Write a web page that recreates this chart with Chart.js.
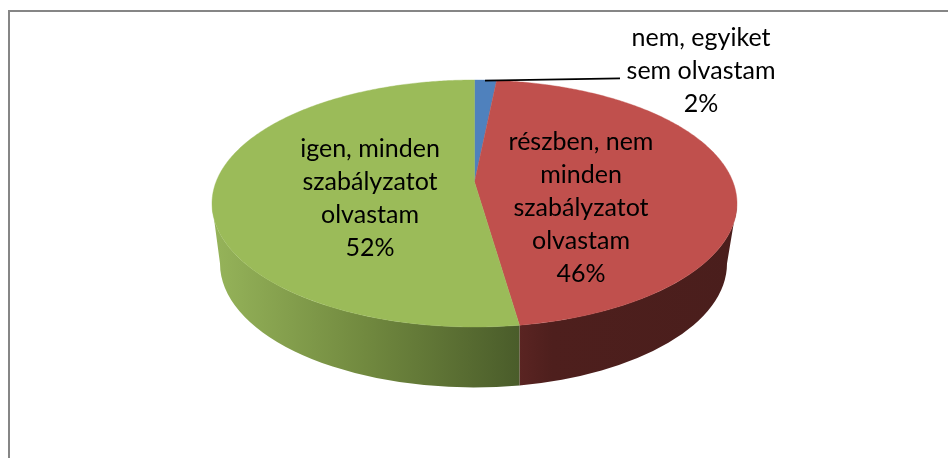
<!DOCTYPE html>
<html><head><meta charset="utf-8">
<style>html,body{margin:0;padding:0;background:#fff}#w{position:relative;width:948px;height:458px}canvas{display:block}</style>
<script src="https://cdn.jsdelivr.net/npm/chart.js@4"></script></head>
<body><div id="w"><canvas id="c" width="948" height="458"></canvas></div>
<script>
const categories = ['nem, egyiket sem olvastam','részben, nem minden szabályzatot olvastam','igen, minden szabályzatot olvastam'];
const values = [1.6, 46.1, 52.3];
const colors = ['#4f81bd','#c0504d','#9bbb59'];
const labelLines = [['nem, egyiket','sem olvastam','2%'],['részben, nem','minden','szabályzatot','olvastam','46%'],['igen, minden','szabályzatot','olvastam','52%']];
const labelPos = [[701,38],[581,142],[370,149]];
const LH = 33;
const E = {cx:474.5, cy:203.5, rx:262.5, ry:123.5, depth:60, brx:253.5, bry:124, bcx:473.5, d:-0.174};
const wallStops = [
  [[0,'#3f6797'],[1,'#2c4a6e']],
  [[0,'#5a2422'],[0.15,'#4e1f1d'],[1,'#4a1e1c']],
  [[0,'#96b45a'],[0.5,'#71893f'],[1,'#4a5c2a']]
];
// perspective: chart angle on the disc -> parameter on the drawn ellipse
function rimT(a){
  const x=Math.cos(a), y=Math.sin(a), k=Math.sqrt(1-E.d*E.d), w=1+E.d*y;
  return Math.atan2((y+E.d)/w, x*k/w);
}
function samples(a,b){
  const n=Math.max(2,Math.ceil((b-a)/0.01)), out=[];
  for(let i=0;i<=n;i++) out.push(a+(b-a)*i/n);
  return out;
}
// bottom-rim parameter directly below a point of the top rim, so slice edges on the wall stay vertical
function bottomT(t){
  if(t<=0.0001) return 0;
  if(t>=Math.PI-0.0001) return Math.PI;
  const c=(E.cx+E.rx*Math.cos(t)-E.bcx)/E.brx;
  return Math.acos(Math.max(-1,Math.min(1,c)));
}
const apex = {x:E.cx, y:E.cy+E.d*E.ry};
function drawSlice(ctx){
  const p=this.getProps(['startAngle','endAngle'],true);
  ctx.save();
  ctx.beginPath(); ctx.moveTo(apex.x,apex.y);
  samples(p.startAngle,p.endAngle).forEach(a=>{
    const t=rimT(a); ctx.lineTo(E.cx+E.rx*Math.cos(t),E.cy+E.ry*Math.sin(t));
  });
  ctx.closePath();
  ctx.fillStyle=this.options.backgroundColor; ctx.fill();
  ctx.strokeStyle=this.options.backgroundColor; ctx.lineWidth=0.4; ctx.stroke();
  ctx.restore();
}
const pie3d = {
  id:'pie3d',
  beforeDatasetsDraw(chart){
    const ctx = chart.ctx, arcs = chart.getDatasetMeta(0).data;
    arcs.forEach((el,i)=>{
      el.draw = drawSlice;
      const pts = samples(el.startAngle,el.endAngle).map(rimT).map(t=>t<-Math.PI/2?t+2*Math.PI:t).filter(t=>t>=0&&t<=Math.PI);
      if(pts.length<2) return;
      const lo=Math.min(...pts), hi=Math.max(...pts);
      const g = ctx.createLinearGradient(E.cx+E.rx*Math.cos(hi),0,E.cx+E.rx*Math.cos(lo),0);
      wallStops[i].forEach(st=>g.addColorStop(st[0],st[1]));
      ctx.save();
      ctx.beginPath();
      ctx.ellipse(E.cx,E.cy,E.rx,E.ry,0,lo,hi,false);
      ctx.ellipse(E.bcx,E.cy+E.depth,E.brx,E.bry,0,bottomT(hi),bottomT(lo),true);
      ctx.closePath();
      ctx.fillStyle = g; ctx.fill();
      ctx.restore();
    });
  },
  afterDatasetsDraw(chart){
    const ctx = chart.ctx;
    ctx.save();
    ctx.strokeStyle='#000'; ctx.lineWidth=1.8;
    ctx.beginPath(); ctx.moveTo(485,80.7); ctx.lineTo(620,78.3); ctx.stroke();
    ctx.font='25px Lato'; ctx.fillStyle='#000'; ctx.textAlign='center'; ctx.textBaseline='middle';
    labelLines.forEach((ls,i)=>ls.forEach((t,j)=>ctx.fillText(t,labelPos[i][0],labelPos[i][1]+j*LH)));
    ctx.restore();
  }
};
const frame = {
  id:'frame',
  beforeDraw(chart){
    const ctx = chart.ctx;
    ctx.save(); ctx.fillStyle='#fff'; ctx.fillRect(0,0,948,458);
    ctx.fillStyle='#868686';
    ctx.fillRect(8,10,940,2); ctx.fillRect(8,10,2,448);
    ctx.restore();
  }
};
new Chart(document.getElementById('c'),{
  type:'pie',
  data:{labels:categories,datasets:[{data:values,backgroundColor:colors,borderWidth:0}]},
  options:{responsive:false,animation:false,rotation:0,
    layout:{padding:10},
    plugins:{legend:{display:false},tooltip:{enabled:false}}},
  plugins:[frame,pie3d]
});
</script></body></html>
